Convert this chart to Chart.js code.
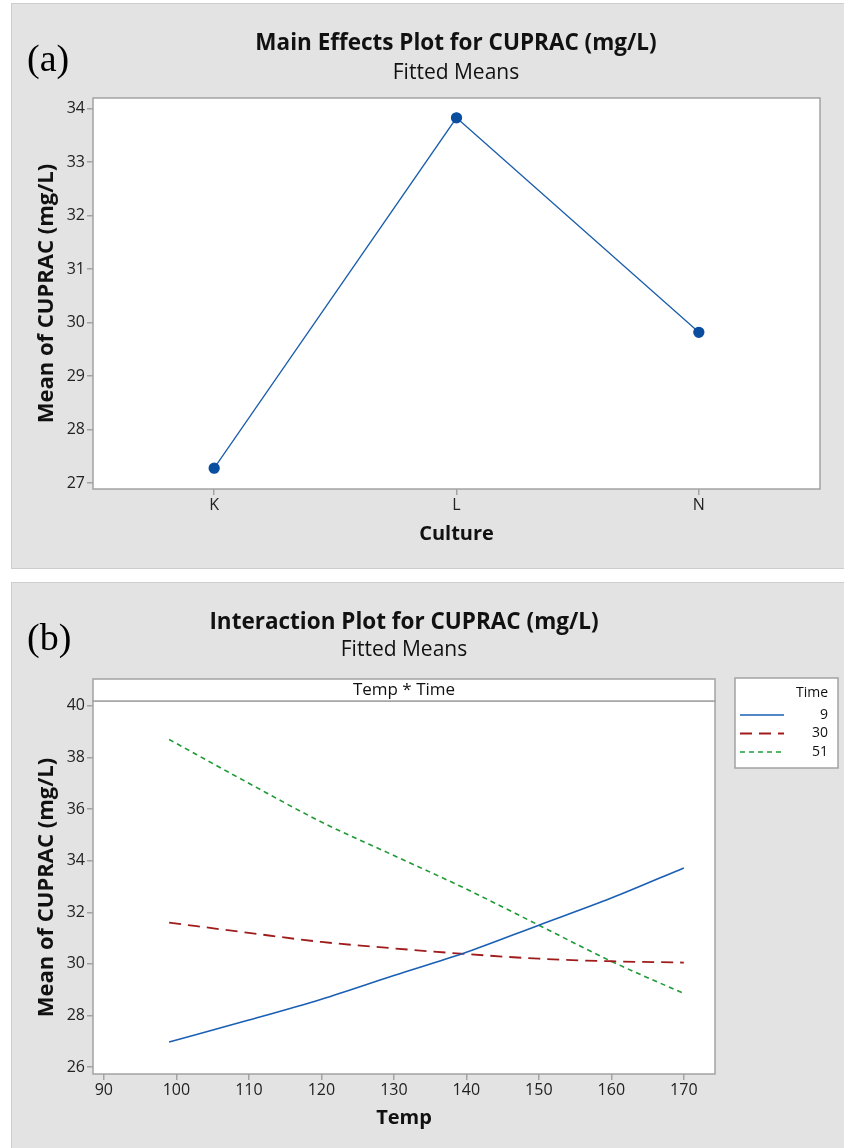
<!DOCTYPE html>
<html>
<head>
<meta charset="utf-8">
<script src="https://cdn.jsdelivr.net/npm/chart.js@4.4.1/dist/chart.umd.min.js"></script>
<style>
  body { margin: 0; background: #fff; width: 844px; height: 1148px; position: relative; overflow: hidden; font-family: "Open Sans", sans-serif; }
  .panel { position: absolute; left: 11px; width: 840px; background: #e3e3e3; border: 1px solid #cdcdcd; box-sizing: border-box; }
  #pa { top: 3px; height: 566px; }
  #pb { top: 582px; height: 575px; }
  canvas { position: absolute; }
  #ca { left: 11px; top: 3px; }
  #cb { left: 11px; top: 582px; }
  .tag { position: absolute; font-family: "Liberation Serif", serif; font-size: 38px; color: #000; line-height: 1; }
  .ttl { position: absolute; width: 600px; text-align: center; font-weight: bold; font-size: 22.5px; color: #111; line-height: 1; }
  .sub { position: absolute; width: 600px; text-align: center; font-size: 21px; color: #111; line-height: 1; }
</style>
</head>
<body>
<div class="panel" id="pa"></div>
<div class="panel" id="pb"></div>
<canvas id="ca" width="833" height="565"></canvas>
<canvas id="cb" width="833" height="566"></canvas>

<div class="tag" style="left:27px; top:39px;">(a)</div>
<div class="ttl" style="left:156px; top:31px;">Main Effects Plot for CUPRAC (mg/L)</div>
<div class="sub" style="left:156px; top:61px;">Fitted Means</div>

<div class="tag" style="left:27px; top:618px;">(b)</div>
<div class="ttl" style="left:104px; top:610px;">Interaction Plot for CUPRAC (mg/L)</div>
<div class="sub" style="left:104px; top:638px;">Fitted Means</div>

<script>
// (a) main effects
const cultures = ["K", "L", "N"];
const cultureMeans = [27.28, 33.83, 29.82];
const yTicksA = [27, 28, 29, 30, 31, 32, 33, 34];

// (b) interaction
const temps = [99, 110, 120, 130, 140, 150, 160, 170];
const timeLevels = ["9", "30", "51"];
const time9 = [26.97, 27.82, 28.63, 29.55, 30.45, 31.5, 32.55, 33.72];
const time30 = [31.6, 31.2, 30.85, 30.6, 30.38, 30.2, 30.1, 30.05];
const time51 = [38.7, 37.0, 35.5, 34.2, 32.9, 31.5, 30.1, 28.85];
const xTicksB = [90, 100, 110, 120, 130, 140, 150, 160, 170];
const yTicksB = [26, 28, 30, 32, 34, 36, 38, 40];

const FONT = "'Open Sans', sans-serif";
const tickFont = { family: FONT, size: 16 };
const xTitleFont = { family: FONT, size: 20, weight: "bold" };
const yTitleFont = { family: FONT, size: 22, weight: "bold" };
const GRAY = "#a3a3a3";

// white plot area + grey frame
const framePlugin = {
  id: "frame",
  beforeDatasetsDraw(c) {
    const a = c.chartArea, ctx = c.ctx;
    ctx.save();
    ctx.fillStyle = "#fff";
    ctx.fillRect(a.left, a.top, a.right - a.left, a.bottom - a.top);
    ctx.restore();
  },
  afterDatasetsDraw(c) {
    const a = c.chartArea, ctx = c.ctx;
    ctx.save();
    ctx.strokeStyle = GRAY;
    ctx.lineWidth = 1.5;
    ctx.strokeRect(a.left, a.top, a.right - a.left, a.bottom - a.top);
    ctx.restore();
  },
};

function axisGrid() {
  return { display: true, drawOnChartArea: false, drawTicks: true, tickLength: 6, color: GRAY, lineWidth: 1.5 };
}

new Chart(document.getElementById("ca"), {
  type: "line",
  data: {
    labels: cultures,
    datasets: [{
      data: cultureMeans,
      borderColor: "#1b5ead",
      borderWidth: 1.3,
      backgroundColor: "#0a4e9f",
      pointBackgroundColor: "#0a4e9f",
      pointBorderColor: "#0a4e9f",
      pointRadius: 5,
      tension: 0,
    }],
  },
  options: {
    responsive: false,
    animation: false,
    layout: { padding: { left: 0, top: 95, right: 24, bottom: 0 } },
    plugins: { legend: { display: false }, tooltip: { enabled: false } },
    scales: {
      x: {
        type: "category",
        offset: true,
        grid: Object.assign(axisGrid(), { offset: false }),
        border: { display: false },
        ticks: { font: tickFont, color: "#222", padding: 1 },
        title: { display: true, text: "Culture", font: xTitleFont, color: "#111", padding: { top: 0, bottom: 22 } },
        afterFit(s) { s.height = 79; },
      },
      y: {
        min: 26.89, max: 34.2,
        grid: axisGrid(),
        border: { display: false },
        ticks: { font: tickFont, color: "#222", padding: 2 },
        afterBuildTicks(s) { s.ticks = yTicksA.map((v) => ({ value: v })); },
        title: { display: true, text: "Mean of CUPRAC (mg/L)", font: yTitleFont, color: "#111", padding: { top: 23, bottom: 0 } },
        afterFit(s) { s.width = 82; },
      },
    },
  },
  plugins: [framePlugin],
});

// header strip + legend for (b)
const stripLegendPlugin = {
  id: "stripLegend",
  afterDraw(c) {
    const a = c.chartArea, ctx = c.ctx;
    ctx.save();
    // strip
    ctx.fillStyle = "#fff";
    ctx.fillRect(a.left, a.top - 22, a.right - a.left, 22);
    ctx.strokeStyle = GRAY;
    ctx.lineWidth = 1.5;
    ctx.strokeRect(a.left, a.top - 22, a.right - a.left, 22);
    ctx.fillStyle = "#111";
    ctx.font = "17px " + FONT;
    ctx.textAlign = "center";
    ctx.textBaseline = "middle";
    ctx.fillText("Temp * Time", (a.left + a.right) / 2, a.top - 11);
    // legend box
    const bx = 724, by = 96, bw = 103, bh = 90;
    ctx.fillStyle = "#fff";
    ctx.fillRect(bx, by, bw, bh);
    ctx.strokeRect(bx, by, bw, bh);
    ctx.fillStyle = "#111";
    ctx.font = "14px " + FONT;
    ctx.textAlign = "right";
    ctx.fillText("Time", bx + bw - 10, by + 15);
    c.data.datasets.forEach((ds, i) => {
      const y = by + 37 + i * 18.5;
      ctx.strokeStyle = ds.borderColor;
      ctx.lineWidth = ds.borderWidth;
      ctx.setLineDash(ds.borderDash || []);
      ctx.beginPath();
      ctx.moveTo(bx + 5, y);
      ctx.lineTo(bx + 49, y);
      ctx.stroke();
      ctx.setLineDash([]);
      ctx.fillStyle = "#111";
      ctx.fillText(ds.label, bx + bw - 10, y);
    });
    ctx.restore();
  },
};

const pts = (ys) => temps.map((t, i) => ({ x: t, y: ys[i] }));

new Chart(document.getElementById("cb"), {
  type: "line",
  data: {
    datasets: [
      { label: timeLevels[0], data: pts(time9), borderColor: "#1a5fb4", borderWidth: 1.6, pointRadius: 0, cubicInterpolationMode: "monotone" },
      { label: timeLevels[1], data: pts(time30), borderColor: "#a01c1c", borderWidth: 1.8, borderDash: [12, 7], pointRadius: 0, cubicInterpolationMode: "monotone" },
      { label: timeLevels[2], data: pts(time51), borderColor: "#1f9a36", borderWidth: 1.6, borderDash: [5, 4], pointRadius: 0, cubicInterpolationMode: "monotone" },
    ],
  },
  options: {
    responsive: false,
    animation: false,
    layout: { padding: { left: 0, top: 119, right: 129, bottom: 0 } },
    plugins: { legend: { display: false }, tooltip: { enabled: false } },
    scales: {
      x: {
        type: "linear",
        min: 88.5, max: 174.3,
        grid: axisGrid(),
        border: { display: false },
        ticks: { font: tickFont, color: "#222", padding: 1 },
        afterBuildTicks(s) { s.ticks = xTicksB.map((v) => ({ value: v })); },
        title: { display: true, text: "Temp", font: xTitleFont, color: "#111", padding: { top: 0, bottom: 18 } },
        afterFit(s) { s.height = 74; },
      },
      y: {
        min: 25.73, max: 40.19,
        grid: axisGrid(),
        border: { display: false },
        ticks: { font: tickFont, color: "#222", padding: 2 },
        afterBuildTicks(s) { s.ticks = yTicksB.map((v) => ({ value: v })); },
        title: { display: true, text: "Mean of CUPRAC (mg/L)", font: yTitleFont, color: "#111", padding: { top: 23, bottom: 0 } },
        afterFit(s) { s.width = 82; },
      },
    },
  },
  plugins: [framePlugin, stripLegendPlugin],
});
</script>
</body>
</html>
